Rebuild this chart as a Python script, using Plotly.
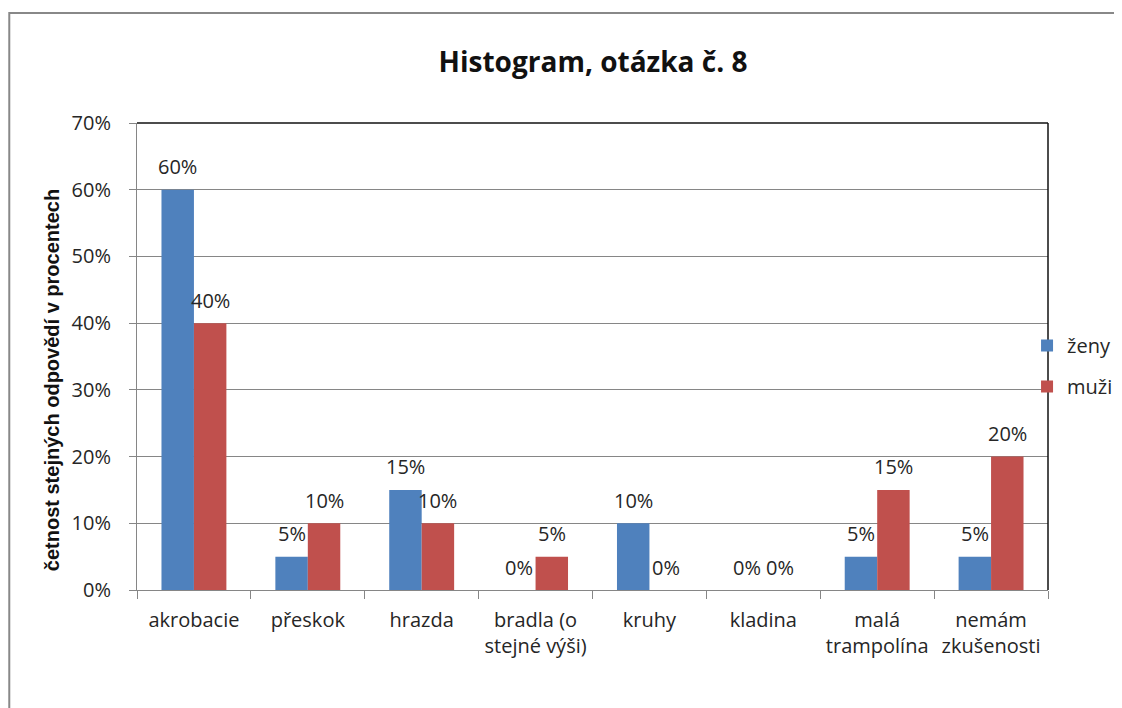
import plotly.graph_objects as go

categories = ["akrobacie", "přeskok", "hrazda", "bradla (o<br>stejné výši)", "kruhy",
              "kladina", "malá<br>trampolína", "nemám<br>zkušenosti"]
zeny = [0.60, 0.05, 0.15, 0.00, 0.10, 0.00, 0.05, 0.05]
muzi = [0.40, 0.10, 0.10, 0.05, 0.00, 0.00, 0.15, 0.20]
series_names = ["ženy", "muži"]
colors = ["#4F81BD", "#C0504D"]

W, H = 1122, 708
L, R, T, B = 129, 1042, 115, 582
pw, ph = R - L, B - T

def px(x):
    return (x - L) / pw

def py(y):
    return (B - y) / ph

FONT = "Open Sans, Lato, sans-serif"
label_font = dict(family=FONT, size=20, color="#262626")

bargap = 0.43
cat_w = pw / len(categories)
bar_w = cat_w * (1 - bargap) / 2

fig = go.Figure()
for i, (name, vals, col) in enumerate(zip(series_names, [zeny, muzi], colors)):
    fig.add_trace(go.Bar(
        x=categories, y=vals, name=name, marker_color=col, marker_line_width=0,
        legendgroup=name,
    ))
    shift = (i - 0.5) * bar_w
    for c, v in zip(categories, vals):
        fig.add_annotation(x=c, y=v, text=f"{v*100:.0f}%", showarrow=False,
                           xshift=shift, yshift=23, yanchor="middle", xanchor="center",
                           font=label_font)

fig.update_layout(
    width=W, height=H,
    margin=dict(l=L, r=W - R, t=T, b=H - B),
    paper_bgcolor="white", plot_bgcolor="white",
    barmode="group", bargap=bargap, bargroupgap=0,
    title=dict(text="<b>Histogram, otázka č. 8</b>", x=585 / W, xanchor="center",
               y=1 - 54 / H, yanchor="middle",
               font=dict(family=FONT, size=28, color="#111111")),
    showlegend=True,
    legend=dict(x=px(1021), xanchor="left", y=py(318), yanchor="top",
                font=dict(family=FONT, size=20, color="#262626"),
                tracegroupgap=12, bgcolor="rgba(0,0,0,0)", itemwidth=30),
    font=label_font,
)

fig.update_xaxes(
    showline=True, linecolor="#868686", linewidth=1,
    ticks="outside", tickson="boundaries", ticklen=8, tickcolor="#868686",
    tickfont=label_font, showgrid=False, ticklabelstandoff=12,
)
fig.update_yaxes(
    range=[0, 0.7], dtick=0.1, tickformat=".0%",
    showline=True, linecolor="#868686", linewidth=1,
    ticks="outside", ticklen=7, tickcolor="#868686",
    showgrid=True, gridcolor="#868686", gridwidth=1,
    tickfont=label_font, zeroline=False, ticklabelstandoff=14,
)

# y-axis title
fig.add_annotation(
    text="<b>četnost stejných odpovědí v procentech</b>", textangle=-90,
    xref="paper", yref="paper", x=px(44), y=py(372), showarrow=False,
    xanchor="center", yanchor="middle",
    font=dict(family="Liberation Sans, Arial, sans-serif", size=20, color="#111111"),
)

# plot area top/right border
fig.add_shape(type="line", xref="paper", yref="paper", x0=0, x1=1, y0=1, y1=1,
              line=dict(color="#111111", width=1.5))
fig.add_shape(type="line", xref="paper", yref="paper", x0=1, x1=1, y0=0, y1=1,
              line=dict(color="#111111", width=1.5))

# outer chart frame
fig.add_shape(type="rect", xref="paper", yref="paper",
              x0=px(1), x1=px(1140), y0=py(730), y1=py(5),
              line=dict(color="#888888", width=2), layer="below")

fig.write_html("out.html")
